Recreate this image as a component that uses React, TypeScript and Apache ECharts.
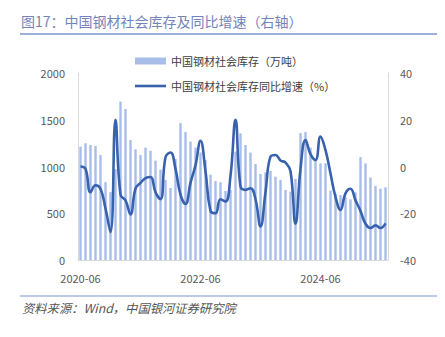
import React, { useEffect, useRef } from "react";
import * as echarts from "echarts";

const months = [
  "2020-06","2020-07","2020-08","2020-09","2020-10","2020-11","2020-12",
  "2021-01","2021-02","2021-03","2021-04","2021-05","2021-06","2021-07","2021-08","2021-09","2021-10","2021-11","2021-12",
  "2022-01","2022-02","2022-03","2022-04","2022-05","2022-06","2022-07","2022-08","2022-09","2022-10","2022-11","2022-12",
  "2023-01","2023-02","2023-03","2023-04","2023-05","2023-06","2023-07","2023-08","2023-09","2023-10","2023-11","2023-12",
  "2024-01","2024-02","2024-03","2024-04","2024-05","2024-06","2024-07","2024-08","2024-09","2024-10","2024-11","2024-12",
  "2025-01","2025-02","2025-03","2025-04","2025-05","2025-06","2025-07",
];

const inventory = [
  1212, 1248, 1230, 1220, 1123, 832, 726,
  972, 1694, 1615, 1284, 1184, 1123, 1202, 1168, 1063, 966, 856, 770,
  1080, 1465, 1368, 1266, 1202, 1150, 1070, 913, 845, 831, 738, 749,
  1159, 1355, 1230, 1148, 1027, 920, 938, 952, 891, 856, 749, 731,
  866, 1358, 1368, 1202, 1060, 1034, 1034, 742, 712, 695, 672, 648,
  724, 1100, 1034, 883, 793, 763, 777,
];

const yoy = [
  0, -1, -11, -8, -9.5, -18, -28,
  20, -12, -14.5, -20.5, -9.5, -7, -5, -4.5, -11, -14, 4, 6,
  -1, -12, -16, -7, 0.5, 11, -2, -19, -20, -14, -15, -4,
  20, -8.5, -10, -9.3, -14, -25.7, -11, 4.2, 4.9, 2.6, 1.7, -2,
  -24.5, -1, 11.3, 5.3, 2.8, 12.8, 7, -3, -13, -18.6, -11.5, -9.5,
  -14.5, -19, -24.5, -26.3, -25.2, -26.3, -24.3,
];

const leftTicks = { min: 0, max: 2000, interval: 500 };
const rightTicks = { min: -40, max: 40, interval: 20 };

const titleText = "图17：中国钢材社会库存及同比增速（右轴）";
const sourceText = "资料来源：Wind，中国银河证券研究院";
const barName = "中国钢材社会库存（万吨）";
const lineName = "中国钢材社会库存同比增速（%）";

const FONT = "'Noto Sans CJK SC', 'Noto Sans', sans-serif";

export default function App() {
  const ref = useRef<HTMLDivElement>(null);
  useEffect(() => {
    if (!ref.current) return;
    const chart = echarts.init(ref.current, undefined, { renderer: "svg" });
    chart.setOption({
      animation: false,
      backgroundColor: "#ffffff",
      textStyle: { fontFamily: FONT },
      grid: { left: 78, right: 57, top: 73, bottom: 77, containLabel: false },
      legend: {
        orient: "vertical",
        left: 130,
        top: 49,
        itemWidth: 31,
        itemHeight: 7,
        itemGap: 11,
        textStyle: { fontSize: 11, color: "#404040", fontFamily: FONT, lineHeight: 14 },
        data: [
          { name: barName, icon: "rect" },
          { name: lineName, icon: "path://M0,0H31V2.6H0Z" },
        ],
      },
      xAxis: {
        type: "category",
        data: months,
        boundaryGap: true,
        axisLine: { show: true, lineStyle: { color: "#d9d9d9", width: 1 } },
        axisTick: { show: false },
        axisLabel: {
          interval: 23,
          fontSize: 11,
          color: "#595959",
          margin: 12,
          fontFamily: FONT,
        },
        splitLine: { show: false },
      },
      yAxis: [
        {
          type: "value",
          ...leftTicks,
          axisLine: { show: true, lineStyle: { color: "#d9d9d9" } },
          axisTick: { show: false },
          splitLine: { show: false },
          axisLabel: {
            fontSize: 11,
            color: "#595959",
            margin: 13,
            fontFamily: FONT,
            formatter: (v: number) => String(v),
          },
        },
        {
          type: "value",
          ...rightTicks,
          axisLine: { show: true, lineStyle: { color: "#d9d9d9" } },
          axisTick: { show: false },
          splitLine: { show: false },
          axisLabel: {
            fontSize: 11,
            color: "#595959",
            margin: 12,
            fontFamily: FONT,
            formatter: (v: number) => String(v),
          },
        },
      ],
      series: [
        {
          name: barName,
          type: "bar",
          data: inventory,
          yAxisIndex: 0,
          barWidth: 2.4,
          itemStyle: { color: "#a8bde8" },
        },
        {
          name: lineName,
          type: "line",
          data: yoy,
          yAxisIndex: 1,
          smooth: 0.45,
          symbol: "none",
          lineStyle: { color: "#3862ae", width: 2.6 },
          itemStyle: { color: "#3862ae" },
        },
      ],
      graphic: [
        {
          type: "text",
          left: 21,
          top: 14,
          style: {
            text: titleText,
            fontSize: 14,
            fill: "#7384bb",
            fontFamily: FONT,
          },
        },
        {
          type: "line",
          shape: { x1: 20, y1: 34, x2: 437, y2: 34 },
          style: { stroke: "#7d95cf", lineWidth: 1.5 },
        },
        {
          type: "line",
          shape: { x1: 20, y1: 296, x2: 437, y2: 296 },
          style: { stroke: "#7d95cf", lineWidth: 1.2 },
        },
        {
          type: "text",
          left: 22,
          top: 302,
          style: {
            text: sourceText,
            fontSize: 12.3,
            fontStyle: "italic",
            fill: "#555555",
            fontFamily: FONT,
          },
        },
      ],
    });
    return () => chart.dispose();
  }, []);
  return <div ref={ref} style={{ width: 445, height: 337, position: "absolute", left: 0, top: 0 }} />;
}
